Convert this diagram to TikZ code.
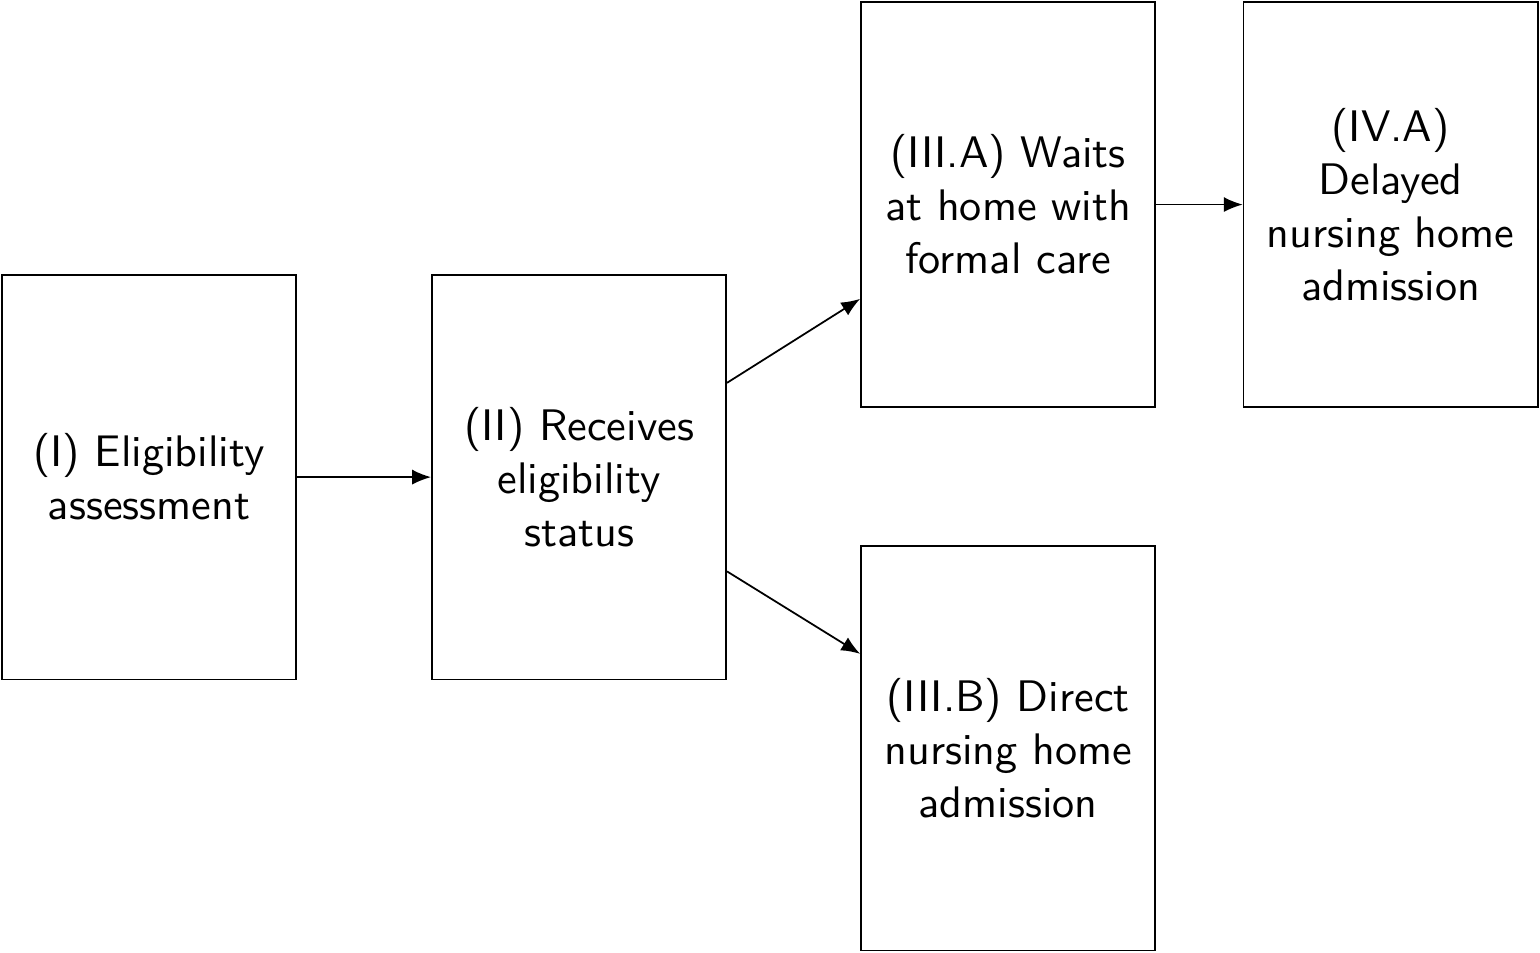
\documentclass[tikz,border=0pt]{standalone}
\usepackage{tikz}
\usetikzlibrary{arrows.meta, positioning}

\begin{document}
\begin{tikzpicture}[font=\sffamily,
      stage/.style={draw, minimum width=2.34cm, minimum height=3.22cm, text width=2cm, align=center},
      flow/.style={-{Latex[length=1.5mm, width=1.2mm]}}]
      \useasboundingbox (0,0) rectangle (12.25,-7.574);
      \node[stage] (elig) at (1.185,-3.795) {(I) Eligibility assessment};
      \node[stage] (status) at (4.606,-3.795) {(II) Receives eligibility status};
      \node[stage] (waits) at (8.019,-1.627) {(III.A) Waits at home with formal care};
      \node[stage] (delayed) at (11.062,-1.627) {(IV.A) Delayed nursing home admission};
      \node[stage] (direct) at (8.019,-5.951) {(III.B) Direct nursing home admission};

      \draw[flow] (elig) -- (status);
      \draw[flow] ([yshift=.75cm]status.east) -- ([yshift=-.75cm]waits.west);
      \draw[flow] ([yshift=-.75cm]status.east) -- ([yshift=.75cm]direct.west);
      \draw[flow] (waits) -- (delayed);
    \end{tikzpicture}
\end{document}
